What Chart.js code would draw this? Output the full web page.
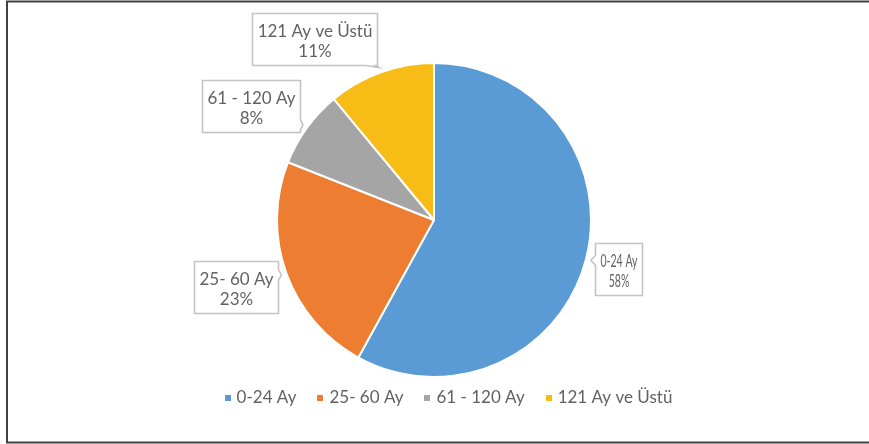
<!DOCTYPE html>
<html>
<head>
<meta charset="utf-8">
<script src="https://cdn.jsdelivr.net/npm/chart.js@4/dist/chart.umd.min.js"></script>
<style>
  html, body { margin: 0; padding: 0; background: #fff; }
  #wrap { position: relative; width: 869px; height: 444px; }
</style>
</head>
<body>
<div id="wrap"><canvas id="c" width="869" height="444"></canvas></div>
<script>
// ---- data ----
const categories = ['0-24 Ay', '25- 60 Ay', '61 - 120 Ay', '121 Ay ve Üstü'];
const shares = [58, 23, 8, 11];
const sliceColors = ['#5B9BD5', '#ED7D31', '#A5A5A5', '#F7BC16'];

// ---- callout styling (offsets from the slice's outer mid-point) ----
const calloutStyle = [
  { dx: 32, dy: 10, scaleX: 0.62 },
  { dx: -50, dy: 14, scaleX: 1 },
  { dx: -56, dy: -22, scaleX: 1 },
  { dx: -66, dy: -33, scaleX: 1 }
];

const FONT_FAMILY = 'Lato, "Open Sans", sans-serif';
const FONT_SIZE = 17;
const TEXT_COLOR = '#626262';

const framePlugin = {
  id: 'frame',
  beforeDraw(chart) {
    const ctx = chart.ctx;
    ctx.save();
    ctx.fillStyle = '#fff';
    ctx.fillRect(0, 0, chart.width, chart.height);
    ctx.strokeStyle = '#404040';
    ctx.lineWidth = 2;
    ctx.beginPath();
    ctx.moveTo(chart.width, 1.5);
    ctx.lineTo(7, 1.5);
    ctx.lineTo(7, 442.5);
    ctx.lineTo(chart.width, 442.5);
    ctx.stroke();
    ctx.restore();
  }
};

function calloutPath(ctx, bx, by, bw, bh, tx, ty) {
  const l = bx, r = bx + bw, t = by, b = by + bh;
  const half = 5;
  const clamp = (v, lo, hi) => Math.max(lo, Math.min(hi, v));
  let side;
  if (tx > r) side = (ty > b && (ty - b) > (tx - r)) ? 'bottom' : 'right';
  else if (tx < l) side = (ty > b && (ty - b) > (l - tx)) ? 'bottom' : 'left';
  else side = ty > b ? 'bottom' : 'top';
  ctx.beginPath();
  ctx.moveTo(l, t);
  if (side === 'top') {
    const cx = clamp(tx, l + half + 2, r - half - 2);
    ctx.lineTo(cx - half, t); ctx.lineTo(tx, ty); ctx.lineTo(cx + half, t);
  }
  ctx.lineTo(r, t);
  if (side === 'right') {
    const cy = clamp(ty, t + half + 2, b - half - 2);
    ctx.lineTo(r, cy - half); ctx.lineTo(tx, ty); ctx.lineTo(r, cy + half);
  }
  ctx.lineTo(r, b);
  if (side === 'bottom') {
    const cx = clamp(tx, l + half + 2, r - half - 2);
    ctx.lineTo(cx + half, b); ctx.lineTo(tx, ty); ctx.lineTo(cx - half, b);
  }
  ctx.lineTo(l, b);
  if (side === 'left') {
    const cy = clamp(ty, t + half + 2, b - half - 2);
    ctx.lineTo(l, cy + half); ctx.lineTo(tx, ty); ctx.lineTo(l, cy - half);
  }
  ctx.closePath();
}

const calloutPlugin = {
  id: 'callouts',
  afterDatasetsDraw(chart) {
    const ctx = chart.ctx;
    const meta = chart.getDatasetMeta(0);
    const total = shares.reduce((a, v) => a + v, 0);
    ctx.save();
    ctx.font = FONT_SIZE + 'px ' + FONT_FAMILY;
    meta.data.forEach((arc, i) => {
      const p = arc.getProps(['x', 'y', 'startAngle', 'endAngle', 'outerRadius'], true);
      const mid = (p.startAngle + p.endAngle) / 2;
      const ax = p.x + Math.cos(mid) * p.outerRadius;
      const ay = p.y + Math.sin(mid) * p.outerRadius;
      const tx = p.x + Math.cos(mid) * (p.outerRadius + 5);
      const ty = p.y + Math.sin(mid) * (p.outerRadius + 5);
      const st = calloutStyle[i];
      const line1 = categories[i];
      const line2 = Math.round(shares[i] / total * 100) + '%';
      const tw = Math.max(ctx.measureText(line1).width, ctx.measureText(line2).width) * st.scaleX;
      const bw = Math.round(tw + 10);
      const bh = 52;
      const cx = ax + st.dx, cy = ay + st.dy;
      const bx = Math.round(cx - bw / 2) + 0.5, by = Math.round(cy - bh / 2) + 0.5;
      calloutPath(ctx, bx, by, bw, bh, tx, ty);
      ctx.fillStyle = '#ffffff';
      ctx.fill();
      ctx.strokeStyle = '#c4c4c4';
      ctx.lineWidth = 1.6;
      ctx.stroke();
      ctx.fillStyle = TEXT_COLOR;
      ctx.textAlign = 'center';
      ctx.textBaseline = 'middle';
      [line1, line2].forEach((txt, k) => {
        ctx.save();
        ctx.translate(bx + bw / 2, by + 18 + k * 20);
        ctx.scale(st.scaleX, 1);
        ctx.fillText(txt, 0, 0);
        ctx.restore();
      });
    });
    ctx.restore();
  }
};

const legendPlugin = {
  id: 'customLegend',
  afterDraw(chart) {
    const ctx = chart.ctx;
    ctx.save();
    ctx.font = FONT_SIZE + 'px ' + FONT_FAMILY;
    const box = 6, gapText = 6, gapItem = 21;
    const widths = categories.map(c => box + gapText + ctx.measureText(c).width);
    const total = widths.reduce((a, v) => a + v, 0) + gapItem * (categories.length - 1);
    let x = 448.5 - total / 2;
    const y = 398;
    ctx.textBaseline = 'middle';
    ctx.textAlign = 'left';
    categories.forEach((c, i) => {
      ctx.fillStyle = sliceColors[i];
      ctx.fillRect(Math.round(x), y - 3, box, box);
      ctx.fillStyle = TEXT_COLOR;
      ctx.fillText(c, x + box + gapText, y);
      x += widths[i] + gapItem;
    });
    ctx.restore();
  }
};

new Chart(document.getElementById('c'), {
  type: 'pie',
  data: {
    labels: categories,
    datasets: [{
      data: shares,
      backgroundColor: sliceColors,
      borderColor: '#ffffff',
      borderWidth: 2
    }]
  },
  options: {
    responsive: false,
    animation: false,
    radius: 157,
    rotation: 0,
    layout: { padding: { left: 0, right: 1, top: 0, bottom: 4 } },
    plugins: {
      legend: { display: false },
      tooltip: { enabled: false }
    }
  },
  plugins: [framePlugin, calloutPlugin, legendPlugin]
});
</script>
</body>
</html>
